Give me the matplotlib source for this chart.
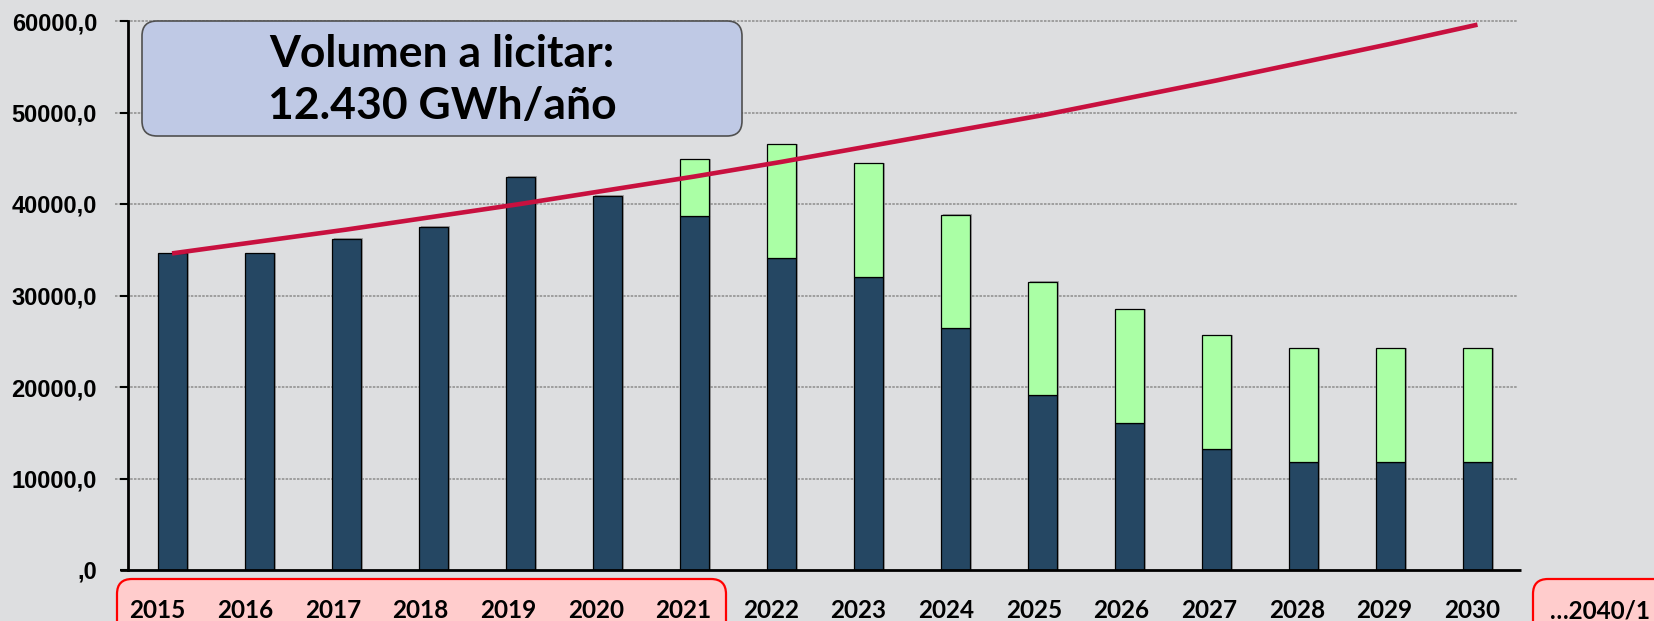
import numpy as np
import matplotlib.pyplot as plt
from matplotlib.patches import FancyBboxPatch
from matplotlib.transforms import IdentityTransform, blended_transform_factory
import matplotlib.patheffects as pe

# datos (GWh)
years = ['2015', '2016', '2017', '2018', '2019', '2020', '2021', '2022',
         '2023', '2024', '2025', '2026', '2027', '2028', '2029', '2030']
contratado = [34600, 34600, 36200, 37500, 43000, 40900, 38700, 34100,
              32000, 26400, 19100, 16100, 13200, 11800, 11800, 11800]
licitar = [0, 0, 0, 0, 0, 0, 6215, 12430,
           12430, 12430, 12430, 12430, 12430, 12430, 12430, 12430]
demanda = [34600, 35900, 37200, 38600, 40000, 41500, 43000, 44600,
           46300, 48000, 49700, 51600, 53500, 55500, 57500, 59600]
y_ticks = [0, 10000, 20000, 30000, 40000, 50000, 60000]
y_labels = [',0', '10000,0', '20000,0', '30000,0', '40000,0', '50000,0', '60000,0']

bg = '#DDDEE0'
W, H = 1654, 621

fig = plt.figure(figsize=(W / 100, H / 100), dpi=100, facecolor=bg)
ax = fig.add_axes([128 / W, (H - 570) / H, (1521 - 128) / W, (570 - 21) / H])
ax.set_facecolor('none')

x = np.arange(len(years))
sombra = [pe.SimplePatchShadow(offset=(1.5, 0.3), shadow_rgbFace='#777777', alpha=0.6), pe.Normal()]

b1 = ax.bar(x, contratado, width=0.333, color='#254763', edgecolor='black', linewidth=0.9, zorder=3)
b2 = ax.bar(x, licitar, width=0.333, bottom=contratado, color='#AAFFA5', edgecolor='black',
            linewidth=0.9, zorder=3)
for r in list(b1) + list(b2):
    r.set_path_effects(sombra)
for r, v in zip(b2, licitar):
    if v == 0:
        r.set_visible(False)

ax.plot(x, demanda, color='#C8103F', lw=3.3, solid_capstyle='butt', zorder=4)

ax.set_xlim(-0.506, 15.5)
ax.set_ylim(0, 60000)

# rejilla punteada
for t in y_ticks[1:]:
    ax.plot([-0.655, 15.455], [t, t], color='#999999', lw=1.3, dashes=(1.4, 0.7),
            zorder=1, clip_on=False)

for s in ['top', 'right', 'bottom']:
    ax.spines[s].set_visible(False)
ax.spines['left'].set_linewidth(2)
ax.plot([-0.6, 15.5], [0, 0], color='black', lw=2, zorder=5, clip_on=False, solid_capstyle='butt')

ax.set_yticks(y_ticks)
ax.set_yticklabels(y_labels, fontfamily='Liberation Sans', fontweight='bold', fontsize=17)
ax.tick_params(axis='y', length=5.8, width=1.5, direction='out', pad=16.5)
ax.set_xticks([])

# cajas rojas bajo el eje
caja1 = FancyBboxPatch((117, -40), 726 - 117, 621 - 579 + 40, boxstyle='round,pad=0,rounding_size=15',
                       transform=IdentityTransform(), facecolor='#FFCCCC', edgecolor='#FF0000',
                       linewidth=1.6, zorder=-1)
caja2 = FancyBboxPatch((1533, -40), 200, 621 - 579 + 40, boxstyle='round,pad=0,rounding_size=15',
                       transform=IdentityTransform(), facecolor='#FFCCCC', edgecolor='#FF0000',
                       linewidth=1.6, zorder=-1)
fig.patches.extend([caja1, caja2])

trans = blended_transform_factory(ax.transData, ax.transAxes)
label_x = x - 0.167 + x * 0.0069
for lx, yr in zip(label_x, years):
    ax.text(lx, (570 - 611) / 549, yr, transform=trans, ha='center', va='center',
            fontfamily='Lato', fontweight='bold', fontsize=17.5, clip_on=False)
fig.text(1550 / W, (H - 611) / H, '…2040/1', ha='left', va='center',
         fontfamily='Lato', fontweight='bold', fontsize=17.5)

# recuadro del volumen
caja = FancyBboxPatch((142, H - 136), 600, 115, boxstyle='round,pad=0,rounding_size=15',
                      transform=IdentityTransform(), facecolor='#BFC9E5', edgecolor='#505050',
                      linewidth=1.2, zorder=6)
fig.patches.append(caja)
fig.text(442 / W, (H - 80) / H, 'Volumen a licitar:\n12.430 GWh/año', ha='center', va='center',
         fontfamily='Lato', fontweight='bold', fontsize=32, linespacing=1.37, zorder=7)

fig.savefig('out.png', dpi=100, facecolor=bg)
